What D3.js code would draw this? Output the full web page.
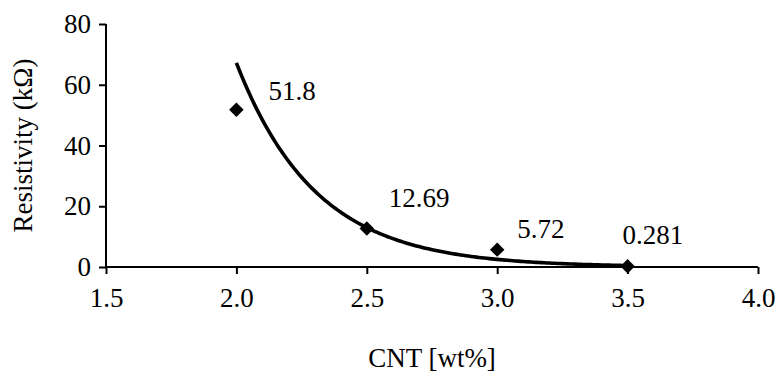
<!DOCTYPE html>
<html>
<head>
<meta charset="utf-8">
<script src="https://cdn.jsdelivr.net/npm/d3@7"></script>
<style>
  body { margin: 0; background: #fff; }
  svg text { font-family: "Liberation Serif", "Times New Roman", serif; fill: #000; }
</style>
</head>
<body>
<div id="chart"></div>
<script>
// data
const cnt = [2.0, 2.5, 3.0, 3.5];
const resistivity = [51.8, 12.69, 5.72, 0.281];
const pointLabels = ["51.8", "12.69", "5.72", "0.281"];
const xTicks = [1.5, 2.0, 2.5, 3.0, 3.5, 4.0];
const yTicks = [0, 20, 40, 60, 80];
// label offsets from the marker, px
const labelDx = [32, 22, 20, -5];
const labelDy = [-10, -21, -12, -22];

const width = 776, height = 376;
const margin = {top: 24, right: 18, bottom: 109, left: 106};
const fontSize = '27px';

const svg = d3.select('#chart').append('svg')
    .attr('width', width)
    .attr('height', height);

const x = d3.scaleLinear().domain([1.5, 4.0]).range([margin.left, width - margin.right]);
const y = d3.scaleLinear().domain([0, 80]).range([height - margin.bottom, margin.top]);

// axes
const xAxis = svg.append('g')
    .attr('transform', `translate(0,${y(0)})`)
    .call(d3.axisBottom(x).tickValues(xTicks).tickFormat(d3.format('.1f')).tickSize(7).tickPadding(14));
const yAxis = svg.append('g')
    .attr('transform', `translate(${x(1.5)},0)`)
    .call(d3.axisLeft(y).tickValues(yTicks).tickSize(7).tickPadding(8));

[xAxis, yAxis].forEach(g => {
    g.select('.domain').attr('stroke', '#000').attr('stroke-width', 2);
    g.selectAll('.tick line').attr('stroke', '#000').attr('stroke-width', 2);
    g.selectAll('.tick text').style('font-size', fontSize).attr('fill', '#000')
        .style('font-family', '"Liberation Serif", "Times New Roman", serif');
});
xAxis.select('.domain').attr('d', `M${x(1.5)},0H${x(4.0)}`);
yAxis.select('.domain').attr('d', `M0,${y(80)}V${y(0)}`);

// axis titles
svg.append('text')
    .attr('x', (x(1.5) + x(4.0)) / 2)
    .attr('y', 367)
    .attr('text-anchor', 'middle')
    .style('font-size', fontSize)
    .text('CNT [wt%]');

svg.append('text')
    .attr('transform', `translate(32,${(y(0) + y(80)) / 2}) rotate(-90)`)
    .attr('text-anchor', 'middle')
    .style('font-size', fontSize)
    .text('Resistivity (kΩ)');

// exponential trendline, least squares fit on ln(y)
const lnY = resistivity.map(Math.log);
const mx = d3.mean(cnt), my = d3.mean(lnY);
const b = d3.sum(cnt, (c, i) => (c - mx) * (lnY[i] - my)) / d3.sum(cnt, c => (c - mx) ** 2);
const a = Math.exp(my - b * mx);
const trend = d3.range(cnt[0], cnt[cnt.length - 1] + 0.001, 0.01).map(c => [c, a * Math.exp(b * c)]);

svg.append('path')
    .datum(trend)
    .attr('fill', 'none')
    .attr('stroke', '#000')
    .attr('stroke-width', 3.6)
    .attr('d', d3.line().x(d => x(d[0])).y(d => y(d[1])));

// markers
const diamond = d3.symbol(d3.symbolSquare, 105);
svg.append('g').selectAll('path')
    .data(cnt)
    .join('path')
    .attr('d', diamond)
    .attr('transform', (d, i) => `translate(${x(d)},${y(resistivity[i])}) rotate(45)`)
    .attr('fill', '#000');

// data labels
svg.append('g').selectAll('text')
    .data(cnt)
    .join('text')
    .attr('x', (d, i) => x(d) + labelDx[i])
    .attr('y', (d, i) => y(resistivity[i]) + labelDy[i])
    .style('font-size', fontSize)
    .text((d, i) => pointLabels[i]);
</script>
</body>
</html>
